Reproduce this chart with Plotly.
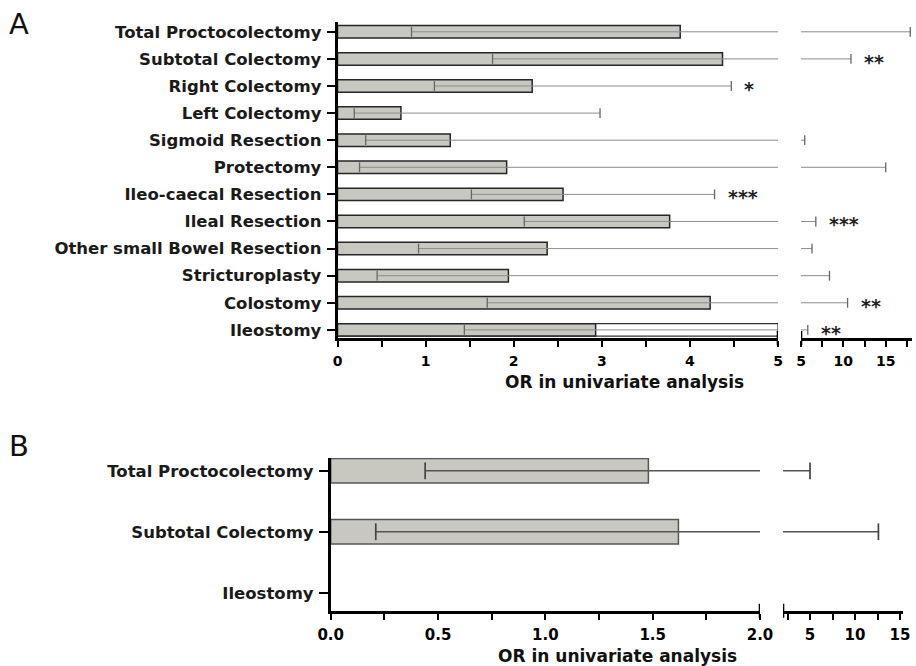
import plotly.graph_objects as go

# ---------------- data ----------------
a_cats = ["Total Proctocolectomy", "Subtotal Colectomy", "Right Colectomy", "Left Colectomy",
          "Sigmoid Resection", "Protectomy", "Ileo-caecal Resection", "Ileal Resection",
          "Other small Bowel Resection", "Stricturoplasty", "Colostomy", "Ileostomy"]
a_or = [3.89, 4.37, 2.21, 0.72, 1.28, 1.92, 2.56, 3.77, 2.38, 1.94, 4.23, 2.93]
a_low = [0.84, 1.76, 1.10, 0.19, 0.32, 0.25, 1.52, 2.12, 0.92, 0.45, 1.70, 1.44]
a_up = [17.9, 10.9, 4.47, 2.98, 5.44, 15.0, 4.28, 6.75, 6.3, 8.36, 10.5, 5.8]
a_stars = ["", "**", "*", "", "", "", "***", "***", "", "", "**", "**"]
a_frame = [None, None, None, None, None, None, None, None, None, None, None, 5.0]

b_cats = ["Total Proctocolectomy", "Subtotal Colectomy", "Ileostomy"]
b_or = [1.48, 1.62, None]
b_low = [0.44, 0.21, None]
b_up = [5.0, 12.6, None]

a_main_ticks = [0, 1, 2, 3, 4, 5]
a_break_ticks = [5, 10, 15]
b_main_ticks = [0.0, 0.5, 1.0, 1.5, 2.0]
b_break_ticks = [5, 10, 15]

# ---------------- geometry ----------------
W, H = 916, 666
def px(x):
    return x / W
def py(y):
    return 1 - y / H

A_MAIN = [0, 5]
A_BREAK = [5, 18.07]
B_MAIN = [0, 2.0]
B_BREAK = [2.0, 15.33]

FONT = "DejaVu Sans"
fig = go.Figure()

def error_traces(cats, low, up, main_rng, brk_rng, xa_main, xa_brk, ya, color, lw, capsize, capcolor):
    mx, my, cx, cy = [], [], [], []
    bx, by, bcx, bcy = [], [], [], []
    for c, lo, hi in zip(cats, low, up):
        if lo is None:
            continue
        mx += [lo, min(hi, main_rng[1]), None]
        my += [c, c, None]
        cx.append(lo); cy.append(c)
        if hi <= main_rng[1]:
            cx.append(hi); cy.append(c)
        else:
            bx += [brk_rng[0], hi, None]
            by += [c, c, None]
            bcx.append(hi); bcy.append(c)
    fig.add_trace(go.Scatter(x=mx, y=my, mode="lines", line=dict(color=color, width=lw),
                             xaxis=xa_main, yaxis=ya, hoverinfo="skip", showlegend=False))
    fig.add_trace(go.Scatter(x=cx, y=cy, mode="markers",
                             marker=dict(symbol="line-ns", size=capsize, line=dict(color=capcolor, width=lw + 0.3)),
                             xaxis=xa_main, yaxis=ya, hoverinfo="skip", showlegend=False, cliponaxis=False))
    fig.add_trace(go.Scatter(x=bx, y=by, mode="lines", line=dict(color=color, width=lw),
                             xaxis=xa_brk, yaxis=ya, hoverinfo="skip", showlegend=False, cliponaxis=False))
    fig.add_trace(go.Scatter(x=bcx, y=bcy, mode="markers",
                             marker=dict(symbol="line-ns", size=capsize, line=dict(color=capcolor, width=lw + 0.3)),
                             xaxis=xa_brk, yaxis=ya, hoverinfo="skip", showlegend=False, cliponaxis=False))

# ---- panel A ----
fig.add_trace(go.Bar(x=a_frame, y=a_cats, orientation="h", width=0.46,
                     marker=dict(color="white", line=dict(color="#333333", width=1.3)),
                     xaxis="x", yaxis="y", showlegend=False, hoverinfo="skip"))
fig.add_trace(go.Bar(x=a_or, y=a_cats, orientation="h", width=0.46,
                     marker=dict(color="#c8c8c0", line=dict(color="#262626", width=1.5)),
                     xaxis="x", yaxis="y", showlegend=False))
error_traces(a_cats, a_low, a_up, A_MAIN, A_BREAK, "x", "x2", "y", "#8c8c8c", 1.0, 7, "#666666")

# ---- panel B ----
fig.add_trace(go.Bar(x=b_or, y=b_cats, orientation="h", width=0.4,
                     marker=dict(color="#c8c8c0", line=dict(color="#555555", width=1.5)),
                     xaxis="x3", yaxis="y2", showlegend=False))
error_traces(b_cats, b_low, b_up, B_MAIN, B_BREAK, "x3", "x4", "y2", "#555555", 1.4, 12, "#444444")

# ---------------- axes ----------------
tickfont = dict(family=FONT, size=14, color="black", weight="bold")
catfont = dict(family=FONT, size=16.5, color="#1a1a1a", weight="bold")

def xax(domain, rng, tickvals, ticktext, minor_vals, anchor, font):
    return dict(domain=domain, range=rng, anchor=anchor, showline=True, linecolor="black", linewidth=2.6,
                ticks="outside", ticklen=6, tickwidth=2.2, tickcolor="black",
                tickmode="array", tickvals=tickvals, ticktext=ticktext, tickfont=font,
                minor=dict(tickmode="array", tickvals=minor_vals, ticks="outside", ticklen=6,
                           tickwidth=2.2, tickcolor="black"),
                showgrid=False, zeroline=False, fixedrange=True, ticklabelstandoff=2,
                automargin=False)

A_Y = [py(338), py(21.5)]
B_Y = [py(610.7), py(458)]

fig.update_layout(
    template="none",
    xaxis=xax([px(337.5), px(778)], A_MAIN, a_main_ticks, [str(v) for v in a_main_ticks],
              [0.5, 1.5, 2.5, 3.5, 4.5], "y", tickfont),
    xaxis2=xax([px(801), px(911.7)], A_BREAK, a_break_ticks, [str(v) for v in a_break_ticks],
               [7.5, 12.5, 17.5], "y", tickfont),
    xaxis3=xax([px(330.7), px(760)], B_MAIN, b_main_ticks, [f"{v:.1f}" for v in b_main_ticks],
               [0.25, 0.75, 1.25, 1.75], "y2", dict(tickfont, size=15)),
    xaxis4=xax([px(783), px(903)], B_BREAK, b_break_ticks, [str(v) for v in b_break_ticks],
               [2.5, 7.5, 12.5], "y2", dict(tickfont, size=15)),
    yaxis=dict(domain=A_Y, anchor="x", type="category", categoryorder="array", categoryarray=a_cats,
               range=[11.3, -0.38], showline=True, linecolor="black", linewidth=2.6,
               ticks="outside", ticklen=8, tickwidth=2.2, tickcolor="black", tickfont=catfont,
               showgrid=False, zeroline=False, fixedrange=True, ticklabelstandoff=2, automargin=False),
    yaxis2=dict(domain=B_Y, anchor="x3", type="category", categoryorder="array", categoryarray=b_cats,
                range=[2.295, -0.21], showline=True, linecolor="black", linewidth=2.6,
                ticks="outside", ticklen=9, tickwidth=2.2, tickcolor="black", tickfont=catfont,
                showgrid=False, zeroline=False, fixedrange=True, ticklabelstandoff=2, automargin=False),
    barmode="overlay",
    width=W, height=H,
    margin=dict(l=0, r=0, t=0, b=0, pad=0, autoexpand=False),
    paper_bgcolor="white", plot_bgcolor="white",
    showlegend=False,
)

# break marks at the axis ends
shapes = []
for xr, xv, ybase in [("x", A_MAIN[1], A_Y[0]), ("x2", A_BREAK[0], A_Y[0]),
                      ("x3", B_MAIN[1], B_Y[0]), ("x4", B_BREAK[0], B_Y[0])]:
    shapes.append(dict(type="line", xref=xr, yref="paper", x0=xv, x1=xv,
                       y0=ybase - 7 / H, y1=ybase + 7 / H, line=dict(color="black", width=2.6)))
fig.update_layout(shapes=shapes)

# significance stars
ann = []
for c, hi, s in zip(a_cats, a_up, a_stars):
    if not s:
        continue
    ann.append(dict(x=hi, y=c, xref="x" if hi <= A_MAIN[1] else "x2", yref="y", text=s,
                    showarrow=False, xanchor="left", yanchor="middle", xshift=11, yshift=-3,
                    font=dict(family=FONT, size=19, color="#222222", weight="bold")))

# titles and panel letters
titlefont = dict(family=FONT, size=17, color="#111111", weight="bold")
ann.append(dict(x=px(624), y=py(382), xref="paper", yref="paper", text="OR in univariate analysis",
                showarrow=False, xanchor="center", yanchor="middle", font=titlefont))
ann.append(dict(x=px(617), y=py(656), xref="paper", yref="paper", text="OR in univariate analysis",
                showarrow=False, xanchor="center", yanchor="middle", font=titlefont))
ann.append(dict(x=px(7), y=py(24), xref="paper", yref="paper", text="A", showarrow=False,
                xanchor="left", yanchor="middle", font=dict(family=FONT, size=29, color="#111111")))
ann.append(dict(x=px(7), y=py(446), xref="paper", yref="paper", text="B", showarrow=False,
                xanchor="left", yanchor="middle", font=dict(family=FONT, size=29, color="#111111")))
fig.update_layout(annotations=ann)

fig.write_html("out.html", config={"displayModeBar": False},
               post_script="document.body.style.margin='0';document.body.style.overflow='hidden';")
